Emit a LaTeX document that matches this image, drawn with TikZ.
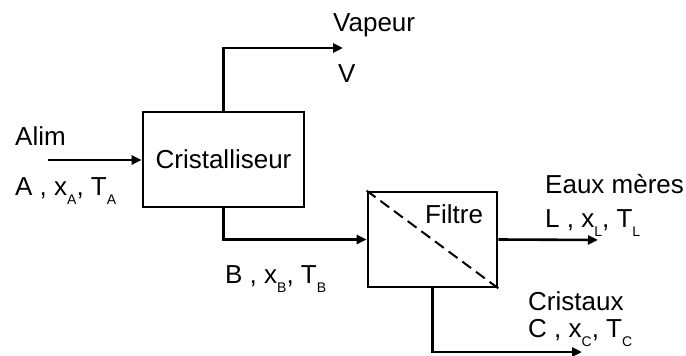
\documentclass[tikz,border=0pt]{standalone}
\usepackage{fontspec}
\setmainfont{Liberation Sans}
\usetikzlibrary{arrows.meta}
\newcommand{\mysub}[1]{\raisebox{-9pt}{\fontsize{14}{14}\selectfont #1}}
\begin{document}
\begin{tikzpicture}[x=1pt,y=-1pt,
  box/.style={draw,line width=2.6pt,rectangle,inner sep=0pt},
  arr/.style={line width=2.6pt,-{Triangle[length=10pt,width=9pt]}},
  lbl/.style={anchor=base west,inner sep=0pt,font=\fontsize{26}{26}\selectfont}]
\useasboundingbox (0,0) rectangle (686,356);
\node[box,minimum width=161pt,minimum height=95pt,font=\fontsize{26}{26}\selectfont] (cris) at (223.5,159.5) {Cristalliseur};
\node[box,minimum width=129pt,minimum height=95pt] (filt) at (432.5,239.5) {};
\draw[line width=2pt,dash pattern=on 11pt off 6pt] (filt.north west) -- (filt.south east);
\node[lbl] (filtre) at (425,223) {Filtre};
\coordinate (alimstart) at (48,160);
\coordinate (vapend) at (343,48);
\coordinate (eauxend) at (598,240);
\coordinate (crisend) at (582,352);
\draw[arr] (alimstart) -- (cris.west |- alimstart);
\draw[arr] (cris.north) |- (vapend);
\draw[arr] (cris.south) |- (filt.west);
\draw[arr] (filt.east) -- (eauxend);
\draw[arr] (filt.south) |- (crisend);
\node[lbl] (alim) at (15,145) {Alim};
\node[lbl] (axa) at (15,195) {A , x\mysub{A}, T\mysub{A}};
\node[lbl] (vap) at (333,31) {Vapeur};
\node[lbl] (v) at (338,82) {V};
\node[lbl] (bxb) at (225,283) {B , x\mysub{B}, T\mysub{B}};
\node[lbl] (eaux) at (545,193) {Eaux mères};
\node[lbl] (lxl) at (545,227) {L , x\mysub{L}, T\mysub{L}};
\node[lbl] (cristaux) at (528,310) {Cristaux};
\node[lbl] (cxc) at (528,337) {C , x\mysub{C}, T\mysub{C}};
\end{tikzpicture}
\end{document}
